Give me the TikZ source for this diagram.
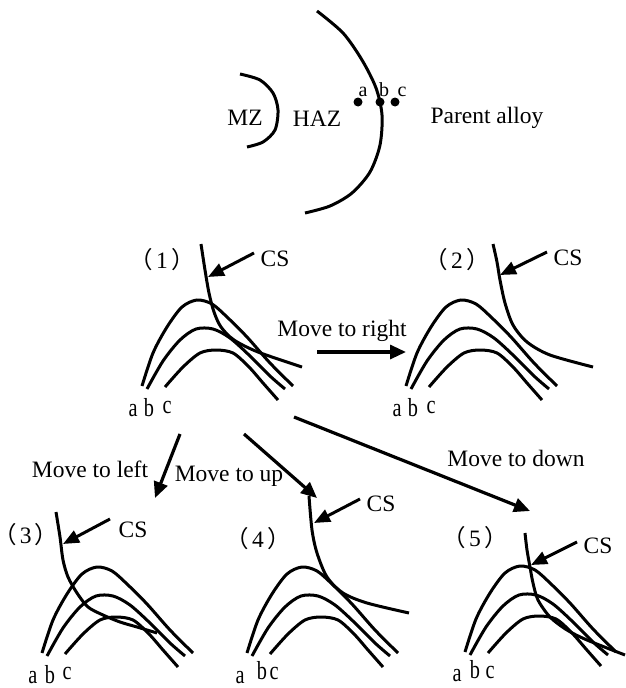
\documentclass[tikz,border=0pt]{standalone}
\usepackage{fontspec}
\setmainfont{Liberation Serif}
\newfontfamily\cjk[CharacterWidth=AlternateProportional]{Noto Sans CJK SC}
\newfontfamily\narrowf[FakeStretch=0.78]{Liberation Serif}
\usetikzlibrary{arrows.meta}
\tikzset{
  curve/.style={line width=3pt},
  csarrow/.style={line width=3pt, -{Triangle[length=16pt,width=13pt]}},
  movearrow/.style={line width=3.2pt, -{Triangle[length=16pt,width=14pt]}},
  lbl/.style={font=\fontsize{23.5}{28}\selectfont, inner sep=0pt, anchor=base},
  smalllbl/.style={font=\fontsize{20}{24}\selectfont, inner sep=0pt, anchor=base},
  abclbl/.style={font=\narrowf\fontsize{26}{30}\selectfont, inner sep=0pt, anchor=base},
  dotmark/.style={circle, fill=black, inner sep=0pt, minimum size=9pt},
}
\newcommand\threecurves[1]{%
  \begin{scope}[shift={#1}]
    \draw[curve] plot[smooth] coordinates {(142,386) (153,353) (167,327) (182,307) (197,300) (212,304) (227,317) (247,337) (270,363) (293,386)};
    \draw[curve] plot[smooth] coordinates {(147,389) (163,361) (180,340) (196,329) (213,329) (230,338) (250,356) (270,376) (285,389)};
    \draw[curve] plot[smooth] coordinates {(165,387) (183,367) (200,353) (216,350) (233,353) (249,367) (263,383) (278,400)};
  \end{scope}}
\newcommand\paren[1]{{\cjk （}\kern4pt#1\kern4pt{\cjk ）}}
\begin{document}
\begin{tikzpicture}[x=1pt,y=-1pt]
\useasboundingbox[fill=white] (0,0) rectangle (625,688);

% ---------- top: zones ----------
\draw[curve] plot[smooth] coordinates {(240,74) (260,80) (273,93) (278,110) (275,130) (263,142) (247,147)};
\draw[curve] plot[smooth] coordinates {(317,11) (343,33) (362,60) (376,88) (382,115) (380,145) (370,172) (352,193) (330,206) (305,213)};
\node[lbl] (mz) at (245,125) {MZ};
\node[lbl] (haz) at (317,126) {HAZ};
\node[lbl] (parent) at (487,123) {Parent alloy};
\node[dotmark] (da) at (358,102) {};
\node[dotmark] (db) at (380,102) {};
\node[dotmark] (dc) at (395,102) {};
\node[smalllbl] (la) at (363,96) {a};
\node[smalllbl] (lb) at (384,96) {b};
\node[smalllbl] (lc) at (402,96) {c};

% ---------- panel 1 ----------
\node[lbl] (p1) at (162,268) {\paren{1}};
\draw[curve] plot[smooth] coordinates {(201,244) (205,270) (209,293) (214,312) (221,327) (234,340) (258,352) (302,367)};
\node[lbl] (cs1) at (275,266) {CS};
\coordinate (cs1s) at (254,253);
\coordinate (cs1e) at (208,277);
\draw[csarrow] (cs1s) -- (cs1e);
\threecurves{(0,0)}
\node[abclbl] (a1) at (133,416) {a};
\node[abclbl] (b1) at (149,416) {b};
\node[abclbl] (c1) at (167,413) {c};

% ---------- panel 2 ----------
\node[lbl] (p2) at (457,268) {\paren{2}};
\draw[curve] plot[smooth] coordinates {(493,244) (497,262) (500,280) (505,303) (513,325) (527,342) (550,355) (593,367)};
\node[lbl] (cs2) at (568,265) {CS};
\coordinate (cs2s) at (547,252);
\coordinate (cs2e) at (500,275);
\draw[csarrow] (cs2s) -- (cs2e);
\threecurves{(264,0)}
\node[abclbl] (a2) at (397,416) {a};
\node[abclbl] (b2) at (413,416) {b};
\node[abclbl] (c2) at (431,413) {c};

% move to right
\node[lbl] (tright) at (342,336) {Move to right};
\coordinate (mr1) at (317,352);
\coordinate (mr2) at (406,352);
\draw[movearrow] (mr1) -- (mr2);

% ---------- panel 3 ----------
\node[lbl] (tleft) at (90,477) {Move to left};
\coordinate (ml1) at (180,434);
\coordinate (ml2) at (155,498);
\draw[movearrow] (ml1) -- (ml2);
\node[lbl, anchor=base west] (p3) at (4,543) {\paren{3}};
\draw[curve] plot[smooth] coordinates {(56,512) (60,537) (63,560) (68,577) (77,593) (88,607) (103,615) (120,622) (137,627) (157,633)};
\node[lbl] (cs3) at (133,537) {CS};
\coordinate (cs3s) at (110,519);
\coordinate (cs3e) at (63,544);
\draw[csarrow] (cs3s) -- (cs3e);
\threecurves{(-100,267)}
\node[abclbl] (a3) at (33,683) {a};
\node[abclbl] (b3) at (50,683) {b};
\node[abclbl] (c3) at (67,679) {c};

% ---------- panel 4 ----------
\node[lbl] (tup) at (229,481) {Move to up};
\coordinate (mu1) at (244,434);
\coordinate (mu2) at (317,498);
\draw[movearrow] (mu1) -- (mu2);
\node[lbl] (p4) at (258,547) {\paren{4}};
\draw[curve] plot[smooth] coordinates {(309,496) (312,530) (317,553) (327,577) (343,593) (367,603) (409,613)};
\node[lbl] (cs4) at (381,511) {CS};
\coordinate (cs4s) at (360,499);
\coordinate (cs4e) at (314,523);
\draw[csarrow] (cs4s) -- (cs4e);
\threecurves{(105,267)}
\node[abclbl] (a4) at (240,683) {a};
\node[abclbl] (b4) at (262,679) {b};
\node[abclbl] (c4) at (274,679) {c};

% ---------- panel 5 ----------
\node[lbl] (tdown) at (516,466) {Move to down};
\coordinate (md1) at (294,417);
\coordinate (md2) at (530,511);
\draw[movearrow] (md1) -- (md2);
\node[lbl] (p5) at (475,546) {\paren{5}};
\draw[curve] plot[smooth] coordinates {(525,533) (527,550) (530,567) (533,583) (538,600) (550,617) (567,630) (587,640) (625,655)};
\node[lbl] (cs5) at (598,553) {CS};
\coordinate (cs5s) at (577,542);
\coordinate (cs5e) at (531,565);
\draw[csarrow] (cs5s) -- (cs5e);
\threecurves{(323,266)}
\node[abclbl] (a5) at (457,681) {a};
\node[abclbl] (b5) at (475,678) {b};
\node[abclbl] (c5) at (490,678) {c};
\end{tikzpicture}
\end{document}
